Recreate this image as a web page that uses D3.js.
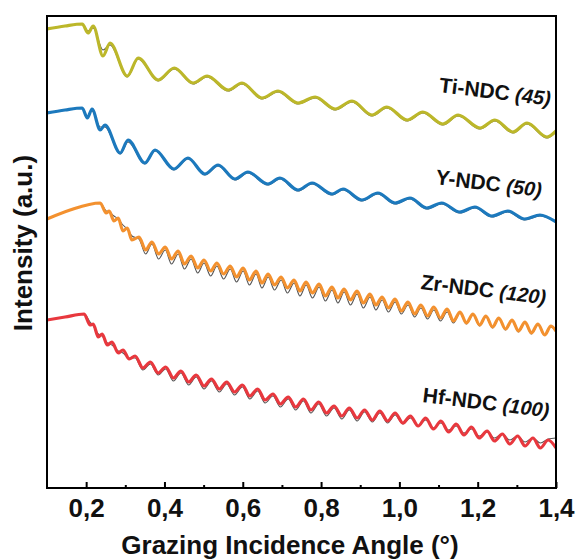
<!DOCTYPE html>
<html>
<head>
<meta charset="utf-8">
<script src="https://d3js.org/d3.v7.min.js"></script>
<style>
  body { margin: 0; background: #fff; }
  text { font-family: "Liberation Sans", Arial, sans-serif; }
</style>
</head>
<body>
<div id="chart"></div>
<script>
// ==============================
// Data
// angle in degrees, intensity in a.u. (offset curves)
// ==============================
var tiAngle = [0.100,0.146,0.190,0.205,0.218,0.243,0.261,0.305,0.333,0.384,0.425,0.473,0.509,0.563,0.598,0.649,0.690,0.741,0.785,0.836,0.879,0.930,0.968,1.020,1.060,1.111,1.150,1.206,1.244,1.290,1.326,1.377,1.400];
var tiData = [45.9,46.2,46.4,45.5,46.2,43.2,44.5,41.2,43.0,40.8,42.0,40.5,41.2,39.8,40.5,39.0,39.7,38.5,39.1,37.9,38.7,37.3,38.1,36.8,37.6,36.4,37.3,36.0,36.8,35.6,36.5,35.1,35.7];
var tiFit = [45.9,46.2,46.4,45.7,46.0,43.8,44.3,41.1,42.9,40.7,41.9,40.4,41.1,39.7,40.4,38.9,39.6,38.4,39.0,37.8,38.6,37.2,38.0,36.7,37.5,36.3,37.2,35.9,36.7,35.5,36.4,35.0,35.6];

var yAngle = [0.100,0.146,0.190,0.203,0.215,0.236,0.248,0.287,0.307,0.350,0.376,0.424,0.460,0.503,0.537,0.580,0.613,0.664,0.695,0.741,0.777,0.828,0.856,0.904,0.945,0.989,1.027,1.070,1.108,1.154,1.193,1.236,1.277,1.320,1.359,1.400];
var yData = [37.5,37.8,38.0,37.0,37.9,35.8,36.3,33.5,34.8,32.5,33.8,31.9,33.0,31.4,32.3,30.9,31.6,30.4,31.0,29.8,30.5,29.4,29.9,28.8,29.5,28.5,29.0,28.0,28.5,27.6,28.1,27.2,27.7,26.9,27.3,26.6];
var yFit = [37.5,37.8,38.0,37.2,37.7,36.1,36.1,33.4,34.6,32.4,33.7,31.8,32.9,31.3,32.2,30.8,31.5,30.3,30.9,29.7,30.4,29.3,29.8,28.7,29.4,28.4,28.9,27.9,28.4,27.5,28.0,27.1,27.6,26.8,27.2,26.6];

var zrAngle = [0.100,0.159,0.236,0.251,0.259,0.271,0.282,0.294,0.305,0.317,
  0.335,0.352,0.368,0.385,0.402,0.418,0.435,0.451,0.468,0.485,
  0.501,0.518,0.534,0.551,0.568,0.584,0.601,0.617,0.634,0.649,
  0.665,0.681,0.698,0.714,0.731,0.746,0.762,0.778,0.795,0.811,
  0.828,0.843,0.859,0.875,0.892,0.908,0.925,0.940,0.956,0.972,
  0.989,1.005,1.022,1.039,1.055,1.072,1.088,1.105,1.122,1.138,
  1.155,1.171,1.188,1.205,1.221,1.238,1.254,1.271,1.288,1.304,
  1.321,1.337,1.354,1.371,1.387,1.400];
var zrData = [26.9,27.8,28.5,27.5,27.7,26.7,27.0,25.7,26.0,24.8,
  25.1,23.8,24.6,23.4,24.1,22.9,23.7,22.4,23.2,22.0,
  22.8,21.7,22.5,21.4,22.2,21.1,22.0,20.8,21.7,20.5,
  21.4,20.3,21.1,20.0,20.8,19.7,20.6,19.5,20.4,19.2,
  20.1,19.0,19.9,18.8,19.7,18.5,19.4,18.3,19.1,18.0,
  18.9,17.7,18.6,17.4,18.3,17.2,18.1,17.0,17.9,16.7,
  17.6,16.5,17.4,16.3,17.2,16.1,17.0,15.9,16.8,15.7,
  16.6,15.5,16.4,15.3,16.2,15.7];
var zrFit = [26.9,27.8,28.5,27.7,27.6,27.2,26.9,26.3,25.9,25.2,
  24.9,23.4,24.4,22.9,23.8,22.4,23.4,21.9,22.9,21.5,
  22.5,21.2,22.2,20.9,21.9,20.6,21.7,20.3,21.4,20.0,
  21.1,19.8,20.8,19.5,20.5,19.2,20.3,19.0,20.1,18.7,
  19.8,18.5,19.6,18.3,19.4,18.0,19.1,17.8,18.8,17.6,
  18.6,17.4,18.3,17.1,18.0,16.9,17.8,16.7,17.6,16.5,
  17.5,16.4,17.3,16.2,17.1,16.0,16.9,15.8,16.7,15.6,
  16.5,15.4,16.3,15.3,16.1,15.7];

var hfAngle = [0.100,0.146,0.195,0.210,0.218,0.231,0.241,0.254,0.266,0.282,0.294,0.310,
  0.325,0.345,0.364,0.384,0.403,0.423,0.442,0.462,0.481,0.501,
  0.520,0.540,0.559,0.579,0.599,0.618,0.638,0.657,0.677,0.696,
  0.716,0.735,0.755,0.774,0.794,0.814,0.833,0.853,0.872,0.892,
  0.911,0.931,0.950,0.970,0.989,1.009,1.028,1.048,1.067,1.087,
  1.106,1.126,1.145,1.165,1.184,1.204,1.224,1.243,1.263,1.282,
  1.302,1.321,1.341,1.360,1.380,1.400];
var hfData = [16.8,17.1,17.4,16.3,16.4,15.1,15.4,14.3,14.6,13.5,13.8,12.9,
  13.2,12.0,12.6,11.5,12.1,11.0,11.7,10.6,11.3,10.2,
  10.9,9.9,10.6,9.6,10.3,9.2,9.9,8.8,9.4,8.4,
  9.1,8.1,8.9,7.8,8.6,7.5,8.2,7.2,8.0,7.0,
  7.8,6.8,7.7,6.7,7.5,6.5,7.2,6.2,7.0,5.9,
  6.7,5.6,6.4,5.3,6.1,5.0,5.7,4.7,5.4,4.4,
  5.2,4.2,5.0,4.0,4.8,4.0];
var hfFit = [16.8,17.1,17.4,16.6,16.2,15.4,15.2,14.5,14.3,13.7,13.5,13.0,
  13.0,11.8,12.4,11.3,11.9,10.7,11.5,10.3,11.1,9.9,
  10.7,9.6,10.4,9.3,10.1,8.9,9.7,8.5,9.2,8.1,
  8.9,7.8,8.7,7.5,8.4,7.2,8.0,6.9,7.8,6.7,
  7.6,6.6,7.5,6.5,7.3,6.4,7.0,6.2,6.8,6.0,
  6.5,5.8,6.2,5.5,5.9,5.2,5.6,5.0,5.4,4.8,
  5.2,4.6,5.0,4.5,4.9,5.0];

var sampleNames = ["Ti-NDC", "Y-NDC", "Zr-NDC", "Hf-NDC"];
var thickness = ["(45)", "(50)", "(120)", "(100)"];
var xTicks = [0.2, 0.4, 0.6, 0.8, 1.0, 1.2, 1.4];
var xMinorTicks = [0.3, 0.5, 0.7, 0.9, 1.1, 1.3];

// ==============================
// Chart setup
// ==============================
var svgWidth = 579;
var svgHeight = 560;
var plot = { left: 47, right: 556, top: 16, bottom: 488 };

var svg = d3.select("#chart")
  .append("svg")
  .attr("width", svgWidth)
  .attr("height", svgHeight);

var xScale = d3.scaleLinear().domain([0.1, 1.4]).range([plot.left, plot.right]);
var yScale = d3.scaleLinear().domain([0, 47.2]).range([plot.bottom, plot.top]);

svg.append("clipPath").attr("id", "clip")
  .append("rect")
  .attr("x", plot.left).attr("y", plot.top)
  .attr("width", plot.right - plot.left)
  .attr("height", plot.bottom - plot.top);

var line = d3.line()
  .x(d => xScale(d[0]))
  .y(d => yScale(d[1]))
  .curve(d3.curveMonotoneX);

var series = [
  { angle: tiAngle, data: tiData, fit: tiFit, color: "#bcb72a" },
  { angle: yAngle, data: yData, fit: yFit, color: "#1c79bd" },
  { angle: zrAngle, data: zrData, fit: zrFit, color: "#f3912f" },
  { angle: hfAngle, data: hfData, fit: hfFit, color: "#e8383e" }
];

var curves = svg.append("g").attr("clip-path", "url(#clip)");

// fits underneath, measured curves on top
series.forEach(function(s) {
  curves.append("path")
    .attr("d", line(d3.zip(s.angle, s.fit)))
    .attr("fill", "none")
    .attr("stroke", "#555")
    .attr("stroke-width", 1.1);
});
series.forEach(function(s) {
  curves.append("path")
    .attr("d", line(d3.zip(s.angle, s.data)))
    .attr("fill", "none")
    .attr("stroke", s.color)
    .attr("stroke-width", 3.2)
    .attr("stroke-linejoin", "round");
});

// ==============================
// Sample labels (slightly tilted)
// ==============================
var labelAnchors = [[1.100, 39.6], [1.091, 30.4], [1.053, 19.9], [1.058, 8.6]];
sampleNames.forEach(function(name, i) {
  var t = svg.append("text")
    .attr("transform", `translate(${xScale(labelAnchors[i][0])}, ${yScale(labelAnchors[i][1])}) rotate(7)`)
    .attr("font-weight", "bold")
    .attr("font-size", 21)
    .attr("fill", "#111");
  t.append("tspan").text(name + " ");
  t.append("tspan").attr("font-style", "italic").attr("font-size", 20).text(thickness[i]);
});

// ==============================
// Axes and frame
// ==============================
var bottomAxis = d3.axisBottom(xScale)
  .tickValues(xTicks)
  .tickSize(-6)
  .tickPadding(11)
  .tickFormat(d => d.toFixed(1).replace(".", ","));

var xAxisGroup = svg.append("g")
  .attr("transform", `translate(0, ${plot.bottom})`)
  .call(bottomAxis);
xAxisGroup.select(".domain").remove();
xAxisGroup.selectAll("line").attr("stroke", "#000").attr("stroke-width", 2);
xAxisGroup.selectAll("text")
  .attr("font-size", 26)
  .attr("font-weight", "bold")
  .attr("fill", "#111")
  .style("font-family", "'Liberation Sans', Arial, sans-serif");

var minorAxis = svg.append("g")
  .attr("transform", `translate(0, ${plot.bottom})`)
  .call(d3.axisBottom(xScale).tickValues(xMinorTicks).tickSize(-3).tickFormat(""));
minorAxis.select(".domain").remove();
minorAxis.selectAll("line").attr("stroke", "#000").attr("stroke-width", 2);

svg.append("rect")
  .attr("x", plot.left)
  .attr("y", plot.top)
  .attr("width", plot.right - plot.left)
  .attr("height", plot.bottom - plot.top)
  .attr("fill", "none")
  .attr("stroke", "#000")
  .attr("stroke-width", 2);

// axis titles
svg.append("text")
  .attr("x", 290)
  .attr("y", 554)
  .attr("text-anchor", "middle")
  .attr("font-size", 26)
  .attr("font-weight", "bold")
  .attr("fill", "#111")
  .text("Grazing Incidence Angle (°)");

svg.append("text")
  .attr("transform", `translate(32, 243) rotate(-90)`)
  .attr("text-anchor", "middle")
  .attr("font-size", 26)
  .attr("font-weight", "bold")
  .attr("fill", "#111")
  .text("Intensity (a.u.)");
</script>
</body>
</html>
